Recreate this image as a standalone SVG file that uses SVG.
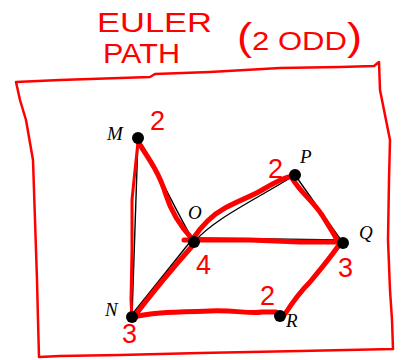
<svg xmlns="http://www.w3.org/2000/svg" width="401" height="360" viewBox="0 0 401 360">
<style>
.hand{font-family:"Liberation Sans",Arial,sans-serif;fill:#ff0000}
.lbl{font-family:"Liberation Serif","Times New Roman",serif;font-style:italic;font-size:19px;fill:#000}
.edge{fill:none;stroke:#000;stroke-width:1.4}
.red{fill:none;stroke:#ff0000;stroke-width:5;stroke-linecap:round;stroke-linejoin:round}
.thin{fill:none;stroke:#ff0000;stroke-width:3;stroke-linecap:round;stroke-linejoin:round}
.box{fill:none;stroke:#ff0000;stroke-width:2.5;stroke-linejoin:round}
.dot{fill:#000}
.num{font-family:"Liberation Sans",Arial,sans-serif;font-size:27px;fill:#ff0000}
</style>
<rect width="401" height="360" fill="#fff"/>
<g id="title">
<text class="hand" x="97" y="32" font-size="27" textLength="115" lengthAdjust="spacingAndGlyphs">EULER</text>
<text class="hand" x="103" y="63" font-size="27" textLength="77" lengthAdjust="spacingAndGlyphs">PATH</text>
<text class="hand" x="237" y="50" font-size="26" textLength="125" lengthAdjust="spacingAndGlyphs"><tspan font-size="38">(</tspan>2 ODD<tspan font-size="38">)</tspan></text>
</g>
<path id="frame" class="box" d="M16,82 L60,80 L150,77 L155,74 L210,72 L280,68 L340,67 L374,66 L379,62 L380,90 L384,110 L390,140 L389,180 L388,240 L390,290 L392,320 L393,349 L300,351 L200,353 L120,355 L60,356 L39,357 L38,320 L37,280 L35,220 L33,160 L26,120 L20,100 Z"/>
<g id="connectors">
<path class="edge" d="M138,138 L132,317"/>
<path class="edge" d="M138,138 C155,165 170,200 194,242"/>
<path class="edge" d="M194,242 C215,218 255,200 295,175"/>
<path class="edge" d="M295,175 L343,243"/>
<path class="edge" d="M194,238 L343,240"/>
<path class="edge" d="M190,242 L130,317"/>
<path class="edge" d="M343,243 L283,314"/>
<path class="thin" d="M138,142 L134,180 L132,200 L132,250 L131,300 L132,318"/>
<path class="red" d="M138,142 C150,160 160,175 166,195 C172,215 182,228 193,240"/>
<path class="red" d="M192,240 C200,228 212,215 225,208 C240,200 252,196 262,190 C272,184 282,178 292,176"/>
<path class="red" d="M292,178 C300,192 312,200 322,215 C330,228 335,235 338,242"/>
<path class="red" d="M184,240 L250,240 L300,242 L339,242"/>
<path class="red" d="M339,245 C330,258 320,270 310,282 C300,292 292,303 285,314"/>
<path class="red" d="M194,244 C178,262 158,285 133,318"/>
<path class="red" d="M134,317 C150,312 180,312 210,311 C235,310 250,314 262,312 L276,312"/>
</g>
<g id="node-M"><circle class="dot" cx="138" cy="138" r="6"/><text class="lbl" x="107" y="140">M</text><text class="num" x="150" y="130">2</text></g>
<g id="node-O"><circle class="dot" cx="194" cy="242" r="6"/><text class="lbl" x="188" y="219">O</text><text class="num" x="196" y="274">4</text></g>
<g id="node-P"><circle class="dot" cx="295" cy="175" r="6"/><text class="lbl" x="300" y="163">P</text><text class="num" x="268" y="178">2</text></g>
<g id="node-Q"><circle class="dot" cx="343" cy="243" r="6"/><text class="lbl" x="359" y="239">Q</text><text class="num" x="338" y="277">3</text></g>
<g id="node-N"><circle class="dot" cx="132" cy="317" r="6"/><text class="lbl" x="105" y="316">N</text><text class="num" x="122" y="343">3</text></g>
<g id="node-R"><circle class="dot" cx="280" cy="316" r="6"/><text class="lbl" x="286" y="327">R</text><text class="num" x="260" y="305">2</text></g>
</svg>
